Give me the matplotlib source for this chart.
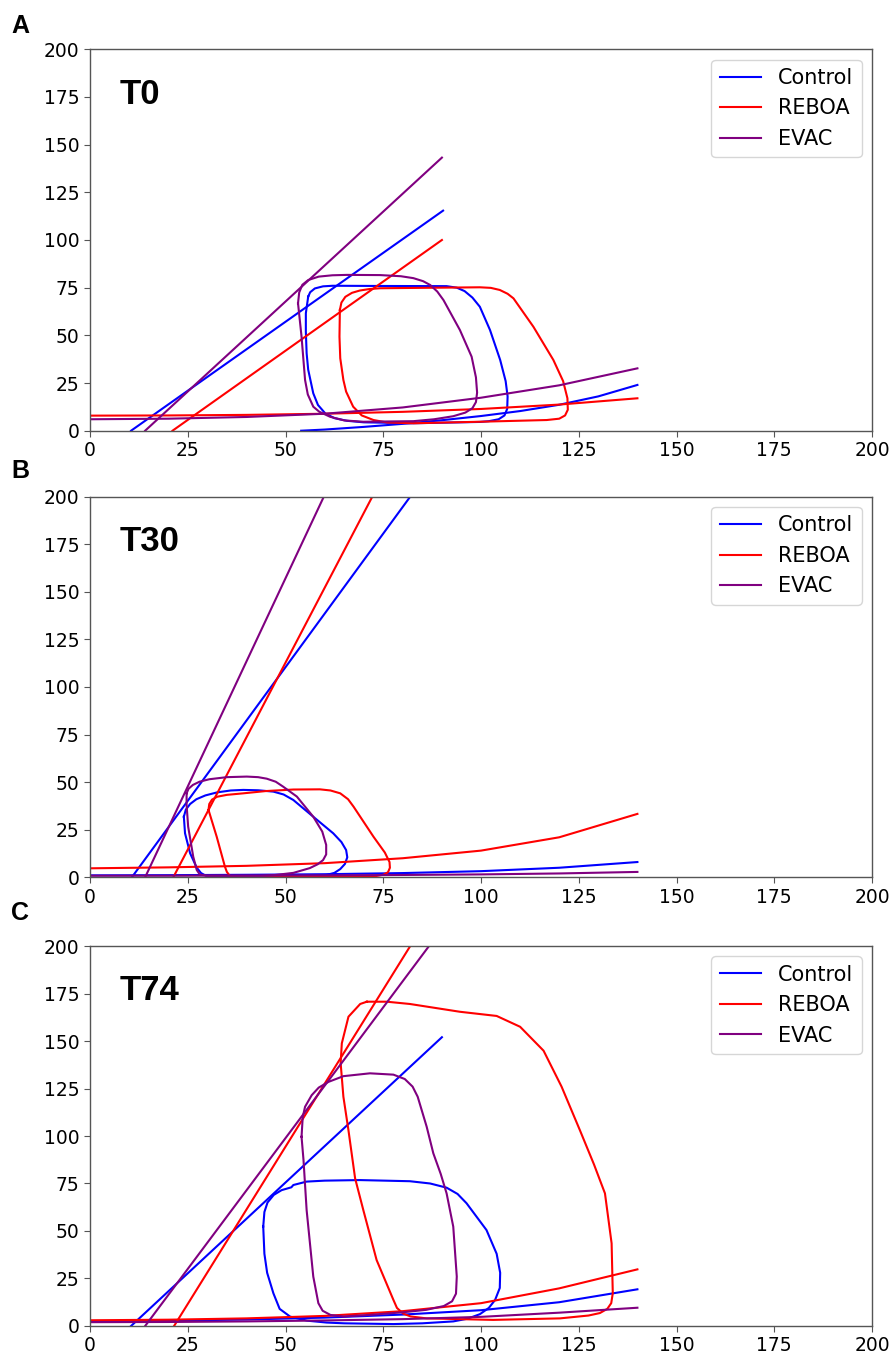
import numpy as np
import matplotlib
matplotlib.use("Agg")
import matplotlib.pyplot as plt

groups = ["Control", "REBOA", "EVAC"]
colors = ["blue", "red", "purple"]
titles = ["T0", "T30", "T74"]
panel_letters = ["A", "B", "C"]
ticks = [0, 25, 50, 75, 100, 125, 150, 175, 200]

# ---------------- T0 ----------------
t0_espvr_v = {"Control": [10.5, 90.3], "REBOA": [21.1, 90.0], "EVAC": [14.1, 90.0]}
t0_espvr_p = {"Control": [0, 115.4], "REBOA": [0, 100.0], "EVAC": [0, 143.2]}

t0_edpvr_v = {"Control": [54, 60, 70, 80, 90, 100, 110, 120, 130, 140],
              "REBOA": [0, 20, 40, 60, 80, 100, 120, 140],
              "EVAC": [0, 20, 40, 60, 80, 100, 120, 140]}
t0_edpvr_p = {"Control": [0, 0.6, 2.0, 3.6, 5.5, 7.7, 10.3, 13.6, 18.0, 24.0],
              "REBOA": [7.9, 8.0, 8.3, 8.9, 9.9, 11.4, 13.7, 17.0],
              "EVAC": [6.0, 6.3, 7.2, 8.9, 12.2, 17.3, 23.8, 32.7]}

t0_loop_v = {
    "Control": [55.8, 56.3, 57.5, 59.6, 62.0, 74.2, 91.2, 93.8, 95.8, 97.8, 99.7, 102.3, 104.9,
                106.3, 106.8, 106.7, 106.0, 104.5, 102.0, 99.7, 82.7, 70.0, 65.7, 62.5, 60.2,
                58.3, 57.1, 55.8, 55.4, 55.2, 55.2],
    "REBOA": [63.9, 64.3, 65.3, 67.0, 69.0, 71.5, 74.2, 99.7, 102.5, 104.8, 106.8, 108.3, 113.4,
              118.5, 121.0, 122.1, 122.2, 121.5, 120.0, 116.8, 99.7, 82.7, 76.0, 72.5, 69.5,
              67.3, 65.5, 64.8, 64.0, 63.8],
    "EVAC": [53.2, 53.5, 54.3, 55.8, 58.5, 62.0, 65.7, 74.2, 79.5, 82.7, 85.2, 87.0, 88.8, 90.4,
             94.6, 97.6, 98.7, 99.0, 98.7, 97.8, 96.0, 92.9, 88.0, 82.7, 69.9, 65.0, 61.4, 58.6,
             57.1, 55.7, 55.0, 54.1],
}
t0_loop_p = {
    "Control": [70.3, 72.6, 74.6, 75.7, 76.0, 75.9, 75.8, 75.0, 73.2, 69.8, 65.0, 52.8, 37.1,
                26.0, 18.0, 11.5, 8.0, 6.0, 5.0, 4.6, 3.9, 4.4, 5.2, 6.6, 9.0,
                13.5, 19.6, 32.0, 40.6, 52.0, 61.6],
    "REBOA": [63.3, 67.2, 70.2, 72.3, 73.5, 74.3, 74.7, 75.2, 74.9, 73.8, 71.8, 69.4, 54.5,
              37.1, 26.0, 17.0, 11.0, 8.0, 6.3, 5.6, 4.7, 3.9, 4.3, 5.6, 8.0,
              12.6, 20.5, 26.6, 38.0, 49.3],
    "EVAC": [66.8, 72.5, 76.5, 79.0, 80.8, 81.5, 81.7, 81.6, 81.0, 80.0, 78.4, 76.4, 73.0, 68.5,
             52.8, 38.8, 28.0, 20.0, 15.0, 11.8, 9.5, 7.6, 6.0, 5.0, 4.7, 5.4, 7.3, 10.0,
             12.6, 19.0, 26.6, 49.3],
}

# ---------------- T30 ----------------
t30_espvr_v = {"Control": [10.7, 81.9], "REBOA": [21.3, 72.2], "EVAC": [14.1, 59.8]}
t30_espvr_p = {"Control": [0, 200], "REBOA": [0, 200], "EVAC": [0, 200]}

t30_edpvr_v = {"Control": [0, 20, 40, 60, 80, 100, 120, 140],
               "REBOA": [0, 20, 40, 60, 80, 100, 120, 140],
               "EVAC": [0, 20, 40, 60, 80, 100, 120, 140]}
t30_edpvr_p = {"Control": [1.0, 1.1, 1.3, 1.6, 2.2, 3.2, 5.0, 8.0],
               "REBOA": [4.7, 5.2, 6.0, 7.4, 10.0, 14.0, 21.0, 33.3],
               "EVAC": [0.8, 0.8, 0.9, 1.0, 1.2, 1.5, 2.0, 2.8]}

t30_loop_v = {
    "Control": [24.0, 24.5, 25.6, 27.2, 29.5, 32.5, 36.0, 39.2, 43.0, 46.9, 49.5, 52.0, 57.1,
                62.2, 64.3, 65.5, 65.8, 65.2, 64.0, 62.5, 60.5, 52.0, 40.0, 29.8, 28.4, 27.3,
                25.6, 24.3],
    "REBOA": [30.3, 30.5, 31.2, 32.5, 35.0, 39.2, 45.0, 52.0, 58.8, 61.5, 64.0, 66.0, 67.4,
              72.5, 75.4, 76.6, 76.7, 76.2, 75.0, 73.3, 52.0, 35.8, 35.0, 34.5, 32.4],
    "EVAC": [24.7, 25.2, 26.3, 28.0, 30.5, 35.0, 40.1, 43.0, 45.2, 47.5, 49.4, 52.9, 57.1, 59.4,
             60.4, 60.4, 59.6, 58.2, 56.2, 52.0, 47.0, 43.5, 30.0, 28.1, 27.3, 26.4, 25.1, 24.7],
}
t30_loop_p = {
    "Control": [31.8, 35.5, 38.5, 41.0, 43.0, 44.6, 45.6, 45.9, 45.7, 45.0, 43.5, 40.6, 31.8,
                23.1, 18.5, 14.3, 10.5, 7.0, 4.3, 2.3, 1.2, 0.4, 0.3, 0.6, 2.2, 5.0,
                12.6, 23.1],
    "REBOA": [35.4, 38.5, 40.8, 42.3, 43.3, 44.1, 45.3, 46.1, 46.2, 45.6, 44.1, 41.0, 37.1,
              21.3, 13.0, 8.0, 5.0, 2.6, 1.3, 0.7, 0.3, 0.6, 2.8, 5.6, 21.3],
    "EVAC": [44.1, 46.5, 48.5, 50.2, 51.5, 52.6, 52.9, 52.6, 51.8, 50.2, 47.6, 42.4, 31.8, 24.0,
             17.0, 12.0, 9.0, 6.8, 4.8, 2.3, 1.1, 0.7, 0.8, 1.4, 3.8, 10.8, 26.6, 38.0],
}

# ---------------- T74 ----------------
t74_espvr_v = {"Control": [10.5, 90.0], "REBOA": [21.5, 81.9], "EVAC": [14.1, 86.7]}
t74_espvr_p = {"Control": [0, 152.0], "REBOA": [0, 200], "EVAC": [0, 200]}

t74_edpvr_v = {"Control": [0, 20, 40, 60, 80, 100, 120, 140],
               "REBOA": [0, 20, 40, 60, 80, 100, 120, 140],
               "EVAC": [0, 20, 40, 60, 80, 100, 120, 140]}
t74_edpvr_p = {"Control": [2.5, 2.8, 3.4, 4.4, 6.0, 8.3, 12.5, 19.3],
               "REBOA": [3.0, 3.3, 4.0, 5.3, 7.8, 12.0, 19.8, 29.8],
               "EVAC": [2.0, 2.1, 2.4, 2.9, 3.6, 4.8, 7.0, 9.6]}

t74_loop_v = {
    "Control": [44.3, 44.6, 45.4, 47.0, 49.0, 51.5, 52.0, 55.4, 60.0, 69.0, 81.8, 87.0, 91.2,
                94.0, 96.3, 101.4, 104.0, 104.9, 104.8, 103.6, 102.0, 99.7, 96.5, 92.9, 85.0,
                77.6, 65.0, 60.5, 55.5, 51.2, 48.5, 46.9, 45.3, 44.6],
    "REBOA": [70.8, 75.9, 81.8, 94.6, 104.0, 110.0, 116.0, 120.6, 125.3, 128.9, 131.7, 133.4,
              133.7, 133.3, 132.3, 130.4, 127.5, 120.2, 103.1, 86.1, 82.0, 80.1, 78.5, 77.6,
              73.3, 69.9, 67.8, 66.1, 64.8, 64.1, 64.4, 66.1, 69.1],
    "EVAC": [54.1, 54.4, 55.0, 56.7, 58.5, 61.0, 64.8, 71.6, 77.6, 80.5, 82.5, 83.8, 86.1, 87.8,
             89.7, 91.2, 92.9, 93.8, 93.6, 92.6, 90.5, 86.0, 80.0, 72.0, 64.8, 61.5, 59.5, 58.4,
             57.1, 55.4, 54.6],
}
t74_loop_p = {
    "Control": [52.3, 60.0, 65.0, 69.0, 71.5, 73.0, 74.2, 76.0, 76.5, 76.8, 76.2, 75.0, 72.8,
                69.5, 64.6, 50.5, 38.0, 28.0, 20.0, 13.7, 9.5, 6.2, 3.8, 2.4, 1.4,
                1.0, 1.4, 1.8, 2.8, 4.9, 9.0, 17.2, 28.0, 38.0],
    "REBOA": [170.7, 170.7, 169.5, 165.4, 163.2, 157.5, 144.9, 126.0, 103.0, 85.0, 69.8, 43.5,
              17.2, 12.0, 9.0, 6.8, 5.5, 4.0, 3.2, 4.0, 5.0, 6.5, 9.5, 13.7,
              34.7, 61.0, 77.7, 103.0, 120.7, 138.4, 148.8, 162.8, 169.5],
    "EVAC": [99.6, 110.0, 115.4, 121.5, 125.5, 128.5, 131.5, 133.0, 132.3, 130.0, 126.0, 120.7,
             104.9, 90.9, 80.0, 69.8, 52.3, 26.0, 17.0, 13.0, 10.5, 8.5, 7.2, 5.9, 5.0, 5.8,
             8.0, 12.0, 26.0, 61.0, 87.4],
}

panels = [
    (t0_espvr_v, t0_espvr_p, t0_edpvr_v, t0_edpvr_p, t0_loop_v, t0_loop_p),
    (t30_espvr_v, t30_espvr_p, t30_edpvr_v, t30_edpvr_p, t30_loop_v, t30_loop_p),
    (t74_espvr_v, t74_espvr_p, t74_edpvr_v, t74_edpvr_p, t74_loop_v, t74_loop_p),
]

fig = plt.figure(figsize=(8.93, 13.54), dpi=100)
axes_rects = [
    [0.1008, 0.6819, 0.8757, 0.2817],
    [0.1008, 0.3521, 0.8757, 0.2811],
    [0.1008, 0.0207, 0.8757, 0.2806],
]
letter_y = [0.9754, 0.6467, 0.3205]

for i, (ev, ep, dv, dp, lv, lp) in enumerate(panels):
    ax = fig.add_axes(axes_rects[i])
    for g, c in zip(groups, colors):
        ax.plot(ev[g], ep[g], color=c, lw=1.5, label=g)
        ax.plot(dv[g], dp[g], color=c, lw=1.5)
        vv = list(lv[g]) + [lv[g][0]]
        pp = list(lp[g]) + [lp[g][0]]
        ax.plot(vv, pp, color=c, lw=1.5, solid_joinstyle="round")
    ax.set_xlim(0, 200)
    ax.set_ylim(0, 200)
    ax.set_xticks(ticks)
    ax.set_yticks(ticks)
    ax.tick_params(labelsize=13.5, color="#555555", length=4)
    for s in ax.spines.values():
        s.set_color("#555555")
        s.set_linewidth(1.0)
    ax.text(0.038, 0.857, titles[i], transform=ax.transAxes, fontsize=25,
            fontweight="bold", family="Liberation Sans", va="baseline", ha="left")
    ax.legend(loc="upper right", fontsize=15)
    fig.text(0.0128, letter_y[i], panel_letters[i], fontsize=18, fontweight="bold",
             family="Liberation Sans", va="baseline", ha="left")

fig.savefig("out.png", dpi=100)
